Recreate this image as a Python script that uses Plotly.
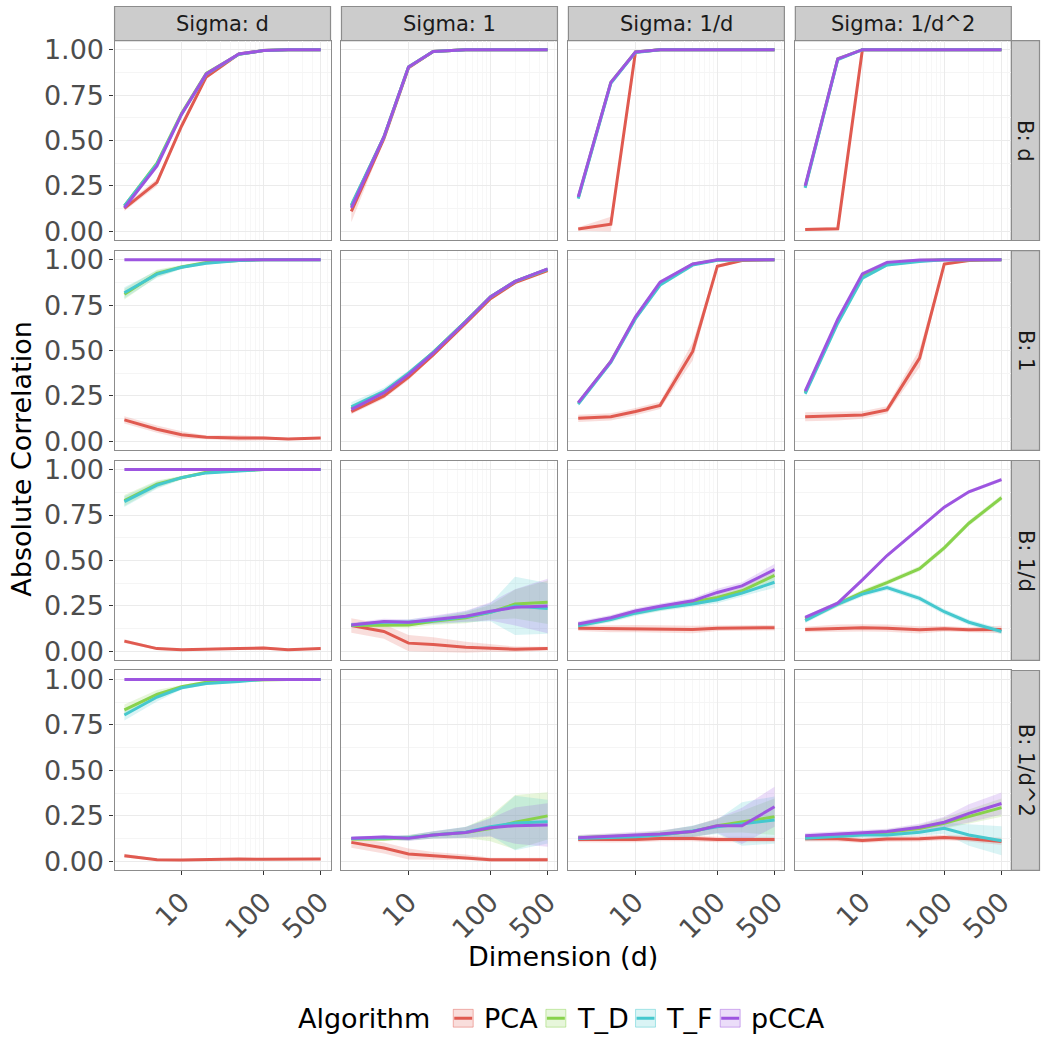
import plotly.graph_objects as go

# ---------------- data ----------------
d_values = [2, 5, 10, 20, 50, 100, 200, 500]
B_levels = ["d", "1", "1/d", "1/d^2"]          # rows
Sigma_levels = ["d", "1", "1/d", "1/d^2"]      # columns
algorithms = ["PCA", "T_D", "T_F", "pCCA"]
x_tick_vals = [10, 100, 500]
x_tick_text = ["10", "100", "500"]
y_tick_vals = [0, 0.25, 0.5, 0.75, 1.0]
y_tick_text = ["0.00", "0.25", "0.50", "0.75", "1.00"]

# mean absolute correlation: [B row][Sigma col][d]
PCA_mean = [
    [[0.127, 0.27, 0.58, 0.85, 0.976, 0.995, 1.0, 1.0],
     [0.11, 0.51, 0.90, 0.99, 1.0, 1.0, 1.0, 1.0],
     [0.013, 0.04, 0.987, 1.0, 1.0, 1.0, 1.0, 1.0],
     [0.01, 0.015, 1.0, 1.0, 1.0, 1.0, 1.0, 1.0]],
    [[0.118, 0.067, 0.036, 0.022, 0.018, 0.018, 0.013, 0.018],
     [0.164, 0.25, 0.353, 0.476, 0.65, 0.785, 0.873, 0.94],
     [0.127, 0.135, 0.164, 0.198, 0.495, 0.964, 0.995, 1.0],
     [0.135, 0.14, 0.145, 0.173, 0.458, 0.976, 0.995, 1.0]],
    [[0.056, 0.015, 0.009, 0.013, 0.015, 0.018, 0.009, 0.015],
     [0.142, 0.109, 0.045, 0.038, 0.022, 0.018, 0.011, 0.015],
     [0.127, 0.125, 0.125, 0.124, 0.12, 0.127, 0.13, 0.13],
     [0.12, 0.127, 0.129, 0.127, 0.118, 0.124, 0.118, 0.12]],
    [[0.031, 0.009, 0.007, 0.011, 0.013, 0.011, 0.011, 0.013],
     [0.104, 0.073, 0.04, 0.031, 0.022, 0.009, 0.009, 0.009],
     [0.12, 0.118, 0.12, 0.125, 0.125, 0.12, 0.12, 0.12],
     [0.124, 0.124, 0.115, 0.122, 0.124, 0.131, 0.124, 0.109]],
]
T_D_mean = [
    [[0.14, 0.375, 0.65, 0.87, 0.975, 0.995, 1.0, 1.0],
     [0.14, 0.52, 0.905, 0.99, 1.0, 1.0, 1.0, 1.0],
     [0.185, 0.82, 0.987, 1.0, 1.0, 1.0, 1.0, 1.0],
     [0.245, 0.95, 1.0, 1.0, 1.0, 1.0, 1.0, 1.0]],
    [[0.81, 0.925, 0.96, 0.985, 0.995, 1.0, 1.0, 1.0],
     [0.18, 0.27, 0.372, 0.49, 0.66, 0.795, 0.88, 0.947],
     [0.21, 0.44, 0.68, 0.87, 0.975, 0.998, 1.0, 1.0],
     [0.27, 0.66, 0.91, 0.975, 0.995, 1.0, 1.0, 1.0]],
    [[0.83, 0.92, 0.955, 0.985, 0.995, 1.0, 1.0, 1.0],
     [0.142, 0.142, 0.145, 0.165, 0.185, 0.215, 0.26, 0.27],
     [0.145, 0.18, 0.215, 0.24, 0.27, 0.296, 0.333, 0.418],
     [0.178, 0.26, 0.324, 0.378, 0.455, 0.569, 0.705, 0.845]],
    [[0.833, 0.918, 0.96, 0.985, 0.996, 1.0, 1.0, 1.0],
     [0.122, 0.122, 0.13, 0.145, 0.158, 0.18, 0.215, 0.25],
     [0.13, 0.135, 0.14, 0.148, 0.164, 0.196, 0.218, 0.245],
     [0.131, 0.14, 0.15, 0.16, 0.18, 0.209, 0.245, 0.295]],
]
T_F_mean = [
    [[0.14, 0.37, 0.645, 0.865, 0.975, 0.995, 1.0, 1.0],
     [0.145, 0.52, 0.905, 0.99, 1.0, 1.0, 1.0, 1.0],
     [0.18, 0.815, 0.985, 1.0, 1.0, 1.0, 1.0, 1.0],
     [0.24, 0.945, 1.0, 1.0, 1.0, 1.0, 1.0, 1.0]],
    [[0.818, 0.92, 0.958, 0.98, 0.995, 1.0, 1.0, 1.0],
     [0.19, 0.275, 0.375, 0.49, 0.66, 0.795, 0.88, 0.947],
     [0.205, 0.435, 0.675, 0.86, 0.97, 0.996, 1.0, 1.0],
     [0.262, 0.65, 0.898, 0.971, 0.99, 1.0, 1.0, 1.0]],
    [[0.824, 0.915, 0.956, 0.982, 0.993, 1.0, 1.0, 1.0],
     [0.145, 0.16, 0.16, 0.17, 0.19, 0.215, 0.25, 0.236],
     [0.14, 0.175, 0.21, 0.235, 0.26, 0.284, 0.32, 0.38],
     [0.169, 0.26, 0.315, 0.351, 0.291, 0.218, 0.16, 0.109]],
    [[0.805, 0.904, 0.955, 0.978, 0.99, 1.0, 1.0, 1.0],
     [0.125, 0.13, 0.13, 0.145, 0.16, 0.19, 0.21, 0.218],
     [0.125, 0.13, 0.135, 0.145, 0.167, 0.19, 0.205, 0.227],
     [0.127, 0.135, 0.145, 0.145, 0.16, 0.182, 0.145, 0.113]],
]
pCCA_mean = [
    [[0.13, 0.36, 0.645, 0.867, 0.976, 0.995, 1.0, 1.0],
     [0.13, 0.52, 0.905, 0.99, 1.0, 1.0, 1.0, 1.0],
     [0.19, 0.82, 0.987, 1.0, 1.0, 1.0, 1.0, 1.0],
     [0.25, 0.95, 1.0, 1.0, 1.0, 1.0, 1.0, 1.0]],
    [[1.0, 1.0, 1.0, 1.0, 1.0, 1.0, 1.0, 1.0],
     [0.176, 0.267, 0.367, 0.485, 0.658, 0.795, 0.88, 0.949],
     [0.213, 0.44, 0.685, 0.876, 0.976, 1.0, 1.0, 1.0],
     [0.276, 0.673, 0.922, 0.985, 0.998, 1.0, 1.0, 1.0]],
    [[1.0, 1.0, 1.0, 1.0, 1.0, 1.0, 1.0, 1.0],
     [0.145, 0.164, 0.16, 0.175, 0.193, 0.22, 0.242, 0.25],
     [0.15, 0.185, 0.222, 0.248, 0.278, 0.324, 0.36, 0.45],
     [0.187, 0.265, 0.393, 0.527, 0.678, 0.793, 0.878, 0.945]],
    [[1.0, 1.0, 1.0, 1.0, 1.0, 1.0, 1.0, 1.0],
     [0.127, 0.133, 0.127, 0.145, 0.158, 0.185, 0.196, 0.2],
     [0.13, 0.14, 0.145, 0.15, 0.164, 0.195, 0.195, 0.3],
     [0.14, 0.149, 0.158, 0.164, 0.187, 0.215, 0.264, 0.318]],
]

# ribbon half-widths: [B row][Sigma col][d]
PCA_band = [
    [[0.015, 0.02, 0.01, 0.01, 0.005, 0.003, 0.0, 0.0],
     [0.06, 0.01, 0.005, 0.0, 0.0, 0.0, 0.0, 0.0],
     [0.01, 0.04, 0.005, 0.0, 0.0, 0.0, 0.0, 0.0],
     [0.008, 0.01, 0.0, 0.0, 0.0, 0.0, 0.0, 0.0]],
    [[0.02, 0.02, 0.02, 0.01, 0.015, 0.01, 0.005, 0.005],
     [0.015, 0.015, 0.015, 0.01, 0.01, 0.01, 0.005, 0.005],
     [0.02, 0.02, 0.02, 0.02, 0.05, 0.01, 0.005, 0.0],
     [0.025, 0.025, 0.02, 0.02, 0.05, 0.01, 0.005, 0.0]],
    [[0.01, 0.008, 0.005, 0.005, 0.005, 0.008, 0.005, 0.005],
     [0.04, 0.04, 0.045, 0.04, 0.03, 0.02, 0.015, 0.01],
     [0.015, 0.02, 0.02, 0.02, 0.02, 0.015, 0.015, 0.015],
     [0.015, 0.02, 0.02, 0.02, 0.02, 0.015, 0.015, 0.02]],
    [[0.01, 0.005, 0.005, 0.005, 0.005, 0.005, 0.005, 0.005],
     [0.03, 0.03, 0.03, 0.02, 0.015, 0.01, 0.01, 0.01],
     [0.015, 0.015, 0.015, 0.015, 0.015, 0.015, 0.015, 0.015],
     [0.015, 0.015, 0.015, 0.015, 0.015, 0.015, 0.015, 0.02]],
]
T_D_band = [
    [[0.01, 0.01, 0.01, 0.01, 0.005, 0.0, 0.0, 0.0],
     [0.01, 0.01, 0.005, 0.0, 0.0, 0.0, 0.0, 0.0],
     [0.01, 0.01, 0.005, 0.0, 0.0, 0.0, 0.0, 0.0],
     [0.01, 0.01, 0.0, 0.0, 0.0, 0.0, 0.0, 0.0]],
    [[0.03, 0.02, 0.01, 0.008, 0.005, 0.0, 0.0, 0.0],
     [0.02, 0.015, 0.015, 0.01, 0.01, 0.01, 0.005, 0.005],
     [0.01, 0.01, 0.01, 0.01, 0.005, 0.0, 0.0, 0.0],
     [0.01, 0.01, 0.01, 0.01, 0.005, 0.0, 0.0, 0.0]],
    [[0.03, 0.02, 0.01, 0.008, 0.005, 0.0, 0.0, 0.0],
     [0.01, 0.01, 0.015, 0.02, 0.03, 0.04, 0.08, 0.12],
     [0.015, 0.015, 0.015, 0.015, 0.015, 0.02, 0.02, 0.03],
     [0.015, 0.015, 0.015, 0.015, 0.015, 0.015, 0.015, 0.015]],
    [[0.03, 0.025, 0.01, 0.008, 0.005, 0.0, 0.0, 0.0],
     [0.01, 0.01, 0.015, 0.02, 0.03, 0.07, 0.15, 0.13],
     [0.015, 0.015, 0.015, 0.02, 0.03, 0.04, 0.06, 0.1],
     [0.015, 0.015, 0.015, 0.015, 0.02, 0.03, 0.04, 0.05]],
]
T_F_band = [
    [[0.01, 0.01, 0.01, 0.01, 0.005, 0.0, 0.0, 0.0],
     [0.015, 0.01, 0.005, 0.0, 0.0, 0.0, 0.0, 0.0],
     [0.01, 0.01, 0.005, 0.0, 0.0, 0.0, 0.0, 0.0],
     [0.01, 0.01, 0.0, 0.0, 0.0, 0.0, 0.0, 0.0]],
    [[0.03, 0.02, 0.01, 0.008, 0.005, 0.0, 0.0, 0.0],
     [0.025, 0.02, 0.015, 0.01, 0.01, 0.01, 0.005, 0.005],
     [0.01, 0.01, 0.01, 0.01, 0.005, 0.0, 0.0, 0.0],
     [0.01, 0.01, 0.01, 0.01, 0.005, 0.0, 0.0, 0.0]],
    [[0.03, 0.02, 0.01, 0.008, 0.005, 0.0, 0.0, 0.0],
     [0.01, 0.01, 0.015, 0.02, 0.03, 0.05, 0.16, 0.14],
     [0.015, 0.015, 0.015, 0.015, 0.015, 0.02, 0.02, 0.03],
     [0.015, 0.015, 0.015, 0.015, 0.015, 0.015, 0.015, 0.015]],
    [[0.03, 0.025, 0.01, 0.008, 0.005, 0.0, 0.0, 0.0],
     [0.01, 0.01, 0.015, 0.02, 0.03, 0.05, 0.15, 0.12],
     [0.015, 0.015, 0.015, 0.02, 0.03, 0.04, 0.12, 0.13],
     [0.015, 0.015, 0.015, 0.015, 0.02, 0.03, 0.06, 0.08]],
]
pCCA_band = [
    [[0.01, 0.01, 0.01, 0.01, 0.005, 0.0, 0.0, 0.0],
     [0.01, 0.01, 0.005, 0.0, 0.0, 0.0, 0.0, 0.0],
     [0.01, 0.01, 0.005, 0.0, 0.0, 0.0, 0.0, 0.0],
     [0.01, 0.01, 0.0, 0.0, 0.0, 0.0, 0.0, 0.0]],
    [[0.0, 0.0, 0.0, 0.0, 0.0, 0.0, 0.0, 0.0],
     [0.015, 0.015, 0.015, 0.01, 0.01, 0.01, 0.005, 0.005],
     [0.01, 0.01, 0.01, 0.01, 0.005, 0.0, 0.0, 0.0],
     [0.01, 0.01, 0.01, 0.01, 0.005, 0.0, 0.0, 0.0]],
    [[0.0, 0.0, 0.0, 0.0, 0.0, 0.0, 0.0, 0.0],
     [0.012, 0.015, 0.015, 0.02, 0.03, 0.05, 0.1, 0.15],
     [0.015, 0.015, 0.015, 0.015, 0.015, 0.02, 0.02, 0.03],
     [0.01, 0.01, 0.01, 0.01, 0.01, 0.01, 0.01, 0.01]],
    [[0.0, 0.0, 0.0, 0.0, 0.0, 0.0, 0.0, 0.0],
     [0.01, 0.01, 0.015, 0.02, 0.03, 0.05, 0.1, 0.12],
     [0.015, 0.015, 0.015, 0.02, 0.03, 0.04, 0.1, 0.11],
     [0.015, 0.015, 0.015, 0.015, 0.02, 0.03, 0.05, 0.06]],
]

means = {"PCA": PCA_mean, "T_D": T_D_mean, "T_F": T_F_mean, "pCCA": pCCA_mean}
bands = {"PCA": PCA_band, "T_D": T_D_band, "T_F": T_F_band, "pCCA": pCCA_band}

# ---------------- style ----------------
colors = {"PCA": "#E05A50", "T_D": "#88D24C", "T_F": "#45C8CE", "pCCA": "#9D55E0"}
fills = {"PCA": "rgba(224,90,80,0.2)", "T_D": "rgba(136,210,76,0.2)",
         "T_F": "rgba(69,200,206,0.2)", "pCCA": "rgba(157,85,224,0.2)"}

W, H = 1043, 1045
col_left = [115, 342.8, 570.6, 798.4]
panel_w = 216.8
row_top = [35, 247.4, 459.8, 672.2]
panel_h = 202.2
FONT = "DejaVu Sans"

def px(x):
    return x / W

def py(y):
    return 1 - y / H

fig = go.Figure()
layout = {}
for r in range(4):
    for c in range(4):
        k = r * 4 + c + 1
        xa = "x" if k == 1 else f"x{k}"
        ya = "y" if k == 1 else f"y{k}"
        # ribbons first
        for alg in algorithms:
            m = means[alg][r][c]
            b = bands[alg][r][c]
            upper = [mi + bi for mi, bi in zip(m, b)]
            lower = [mi - bi for mi, bi in zip(m, b)]
            fig.add_trace(go.Scatter(
                x=d_values + d_values[::-1], y=upper + lower[::-1],
                fill="toself", fillcolor=fills[alg], line=dict(width=0),
                mode="lines", hoverinfo="skip", showlegend=False,
                xaxis=xa, yaxis=ya))
        for alg in algorithms:
            fig.add_trace(go.Scatter(
                x=d_values, y=means[alg][r][c], mode="lines",
                line=dict(color=colors[alg], width=3),
                name=alg, showlegend=False, xaxis=xa, yaxis=ya))

        xkey = "xaxis" if k == 1 else f"xaxis{k}"
        ykey = "yaxis" if k == 1 else f"yaxis{k}"
        x0 = px(col_left[c]); x1 = px(col_left[c] + panel_w)
        y1 = py(row_top[r]); y0 = py(row_top[r] + panel_h)
        bottom = (r == 3)
        left = (c == 0)
        layout[xkey] = dict(
            domain=[x0, x1], anchor=ya, type="log",
            range=[0.181, 2.819],
            tickvals=x_tick_vals, ticktext=x_tick_text,
            showticklabels=bottom, ticks="outside" if bottom else "",
            ticklen=4, tickwidth=1, tickcolor="#333333",
            tickangle=-45,
            tickfont=dict(family=FONT, size=27, color="#4D4D4D"),
            showgrid=True, gridcolor="#EBEBEB", gridwidth=1.1,
            minor=dict(tickmode="array",
                       tickvals=[20, 30, 40, 50, 60, 70, 80, 90, 200, 300, 400, 600],
                       showgrid=True, gridcolor="#F7F7F7", gridwidth=0.6, ticks=""),
            showline=True, mirror=True, linecolor="#8C8C8C", linewidth=1.2,
            zeroline=False, fixedrange=True)
        layout[ykey] = dict(
            domain=[y0, y1], anchor=xa, range=[-0.05, 1.05],
            tickvals=y_tick_vals, ticktext=y_tick_text,
            showticklabels=left, ticks="outside" if left else "",
            ticklen=4, tickwidth=1, tickcolor="#333333",
            tickfont=dict(family=FONT, size=27, color="#4D4D4D"),
            showgrid=True, gridcolor="#EBEBEB", gridwidth=1.1,
            minor=dict(tickmode="array", tickvals=[0.125, 0.375, 0.625, 0.875],
                       showgrid=True, gridcolor="#F5F5F5", gridwidth=0.6, ticks=""),
            showline=True, mirror=True, linecolor="#8C8C8C", linewidth=1.2,
            zeroline=False, fixedrange=True)

shapes = []
annotations = []
# top strips
for c, s in enumerate(Sigma_levels):
    shapes.append(dict(type="rect", xref="paper", yref="paper",
                       x0=px(col_left[c]), x1=px(col_left[c] + panel_w),
                       y0=py(35), y1=py(0.5), fillcolor="#CCCCCC",
                       line=dict(color="#8C8C8C", width=1.2), layer="below"))
    annotations.append(dict(text=f"Sigma: {s}", xref="paper", yref="paper",
                            x=px(col_left[c] + panel_w / 2), y=py(18),
                            showarrow=False, xanchor="center", yanchor="middle",
                            font=dict(family=FONT, size=21, color="#1A1A1A")))
# right strips
for r, b in enumerate(B_levels):
    shapes.append(dict(type="rect", xref="paper", yref="paper",
                       x0=px(1015.2), x1=px(1043.5),
                       y0=py(row_top[r] + panel_h), y1=py(row_top[r]),
                       fillcolor="#CCCCCC", line=dict(color="#8C8C8C", width=1.2),
                       layer="below"))
    annotations.append(dict(text=f"B: {b}", xref="paper", yref="paper",
                            x=px(1029.5), y=py(row_top[r] + panel_h / 2),
                            showarrow=False, xanchor="center", yanchor="middle",
                            textangle=90,
                            font=dict(family=FONT, size=21, color="#1A1A1A")))
# axis titles
annotations.append(dict(text="Absolute Correlation", xref="paper", yref="paper",
                        x=px(22), y=py(458), showarrow=False, textangle=-90,
                        xanchor="center", yanchor="middle",
                        font=dict(family=FONT, size=27, color="#000000")))
annotations.append(dict(text="Dimension (d)", xref="paper", yref="paper",
                        x=px(565), y=py(962), showarrow=False,
                        xanchor="center", yanchor="middle",
                        font=dict(family=FONT, size=27, color="#000000")))
# legend (drawn manually, ggplot-style keys)
legend_y = 1024
annotations.append(dict(text="Algorithm", xref="paper", yref="paper",
                        x=px(297), y=py(legend_y), showarrow=False,
                        xanchor="left", yanchor="middle",
                        font=dict(family=FONT, size=27, color="#000000")))
key_x = [455, 548, 638, 723]
for alg, kx in zip(algorithms, key_x):
    shapes.append(dict(type="rect", xref="paper", yref="paper",
                       x0=px(kx), x1=px(kx + 20), y0=py(legend_y + 9), y1=py(legend_y - 9),
                       fillcolor=fills[alg], line=dict(color=fills[alg].replace("0.2)", "0.45)"), width=1)))
    shapes.append(dict(type="line", xref="paper", yref="paper",
                       x0=px(kx + 1), x1=px(kx + 19), y0=py(legend_y), y1=py(legend_y),
                       line=dict(color=colors[alg], width=3)))
    annotations.append(dict(text=alg, xref="paper", yref="paper",
                            x=px(kx + 29), y=py(legend_y), showarrow=False,
                            xanchor="left", yanchor="middle",
                            font=dict(family=FONT, size=27, color="#000000")))

fig.update_layout(**layout)
fig.update_layout(width=W, height=H, margin=dict(l=0, r=0, t=0, b=0),
                  paper_bgcolor="white", plot_bgcolor="white",
                  showlegend=False, shapes=shapes, annotations=annotations,
                  font=dict(family=FONT))
fig.write_html("out.html")
